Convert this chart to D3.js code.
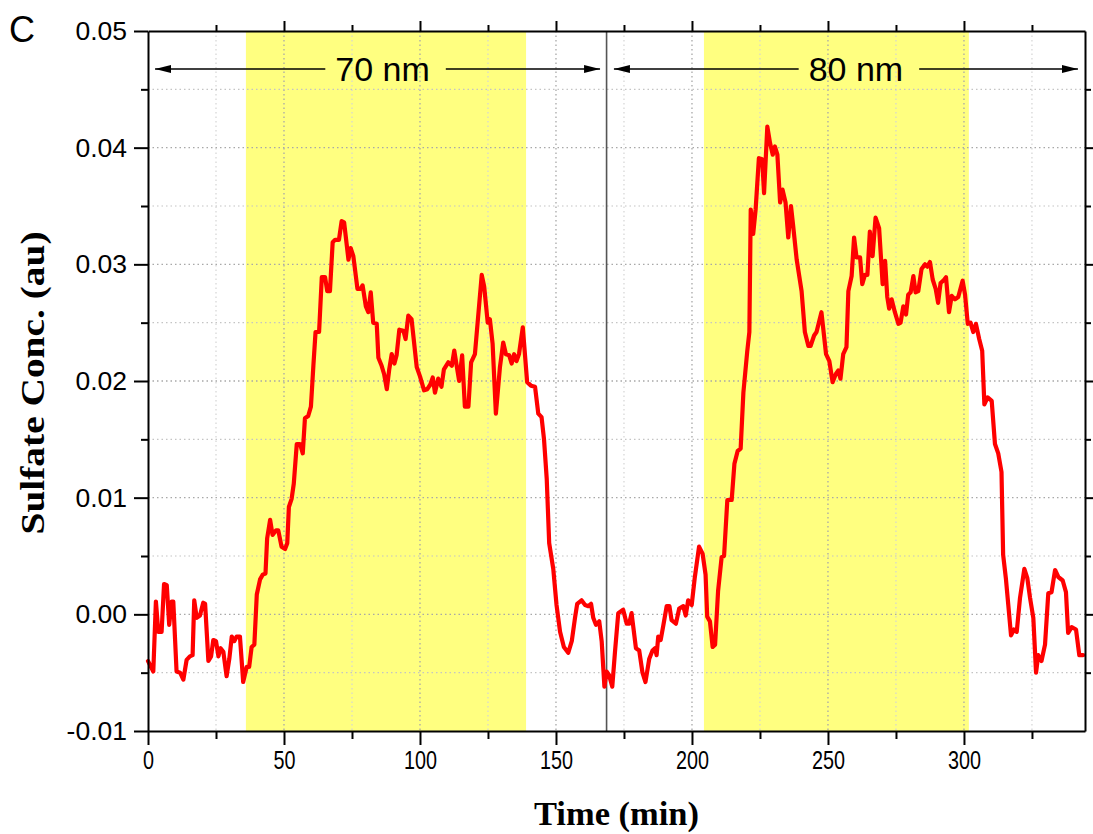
<!DOCTYPE html>
<html>
<head>
<meta charset="utf-8">
<script src="https://cdn.jsdelivr.net/npm/d3@7/dist/d3.min.js"></script>
<style>
  html, body { margin: 0; padding: 0; background: #fff; }
  svg { display: block; }
</style>
</head>
<body>
<svg id="chart" width="1093" height="834"></svg>
<script>
// ---------------- data ----------------
const timeMin = [
  0, 1.95, 2.9, 3.8, 5.0, 5.9, 6.9, 7.8, 8.7, 9.3, 10.5, 11.8, 13.0, 14.2, 15.4, 16.4, 17.0, 17.9, 19.1, 20.3,
  21.0, 22.2, 23.2, 24.0, 25.0, 25.9, 26.7, 27.7, 28.9, 29.9, 30.8, 31.7, 32.6, 33.8, 35.0, 36.3, 37.2, 38.1, 39.1, 40.0,
  41.2, 42.2, 43.2, 43.8, 44.9, 45.8, 47.1, 47.9, 49.1, 50.4, 51.2, 51.8, 52.8, 53.6, 54.7, 55.9, 56.9, 57.7, 58.9, 59.9,
  60.8, 61.6, 62.9, 63.9, 65.1, 65.9, 66.9, 67.9, 68.8, 70.2, 71.2, 72.1, 73.7, 74.5, 75.5, 77.0, 78.2, 78.9, 80.1, 81.0,
  81.9, 82.8, 84.1, 84.7, 85.9, 86.8, 87.8, 88.7, 89.6, 90.6, 91.4, 92.4, 93.9, 94.7, 95.7, 96.9, 98.8, 100.0, 101.5, 102.7,
  103.8, 104.7, 105.5, 106.7, 107.9, 108.8, 110.4, 111.7, 112.6, 113.5, 114.4, 115.5, 116.5, 117.8, 118.8, 120.2, 122.7, 123.6, 124.9, 125.7,
  126.7, 127.9, 129.4, 130.6, 131.6, 132.8, 133.7, 134.6, 135.5, 136.4, 137.8, 139.4, 140.8, 142.3, 143.5, 144.7, 145.6, 146.6, 147.5, 149.0,
  150.2, 151.5, 152.9, 154.5, 155.8, 157.0, 157.8, 159.4, 160.7, 161.9, 162.9, 163.7, 164.7, 165.9, 166.8, 167.8, 168.6, 169.5, 170.7, 171.7,
  172.9, 174.7, 176.0, 176.9, 177.8, 179.4, 180.6, 181.8, 182.9, 184.3, 185.5, 186.4, 187.0, 187.6, 188.5, 189.5, 190.7, 191.7, 192.5, 194.1,
  195.3, 196.8, 197.7, 198.6, 199.9, 201.0, 202.6, 203.9, 205.0, 205.6, 206.6, 207.6, 208.5, 209.6, 210.9, 211.8, 213.0, 214.6, 215.6, 216.8,
  217.9, 218.9, 220.3, 221.1, 221.6, 222.5, 223.4, 224.6, 225.8, 226.5, 227.7, 228.7, 229.7, 230.5, 231.4, 232.4, 233.3, 234.4, 235.4, 236.4,
  237.2, 238.5, 240.3, 241.5, 242.8, 243.6, 244.9, 245.8, 247.6, 249.3, 250.5, 251.7, 252.9, 253.8, 254.6, 255.6, 256.8, 257.5, 258.7, 259.6,
  260.5, 261.8, 262.6, 263.6, 264.5, 265.4, 266.4, 267.5, 268.8, 270.1, 271.0, 271.8, 272.5, 273.4, 274.6, 275.9, 276.7, 277.7, 278.7, 279.5,
  280.4, 281.4, 282.2, 283.2, 284.4, 285.7, 286.5, 287.5, 288.5, 289.6, 290.5, 291.4, 292.4, 293.4, 294.5, 295.5, 296.7, 297.9, 299.5, 300.4,
  301.4, 302.4, 303.4, 304.4, 305.6, 306.7, 307.5, 308.7, 310.2, 311.4, 312.6, 313.8, 314.4, 315.4, 316.3, 317.3, 318.4, 319.4, 320.6, 322.2,
  323.3, 324.3, 325.5, 326.5, 327.3, 328.5, 329.8, 331.0, 332.2, 333.5, 334.7, 336.3, 337.5, 338.3, 339.6, 341.2, 342.4, 343.8
];
const sulfate = [
  -0.0040, -0.0049, 0.0011, -0.0015, -0.0015, 0.0026, 0.0025, -0.0009, 0.0011, 0.0011, -0.0049, -0.0050, -0.0056, -0.0039, -0.0036, -0.0035, 0.0012, -0.0003, -0.0001, 0.0010,
  0.0009, -0.0040, -0.0036, -0.0022, -0.0023, -0.0036, -0.0029, -0.0032, -0.0053, -0.0038, -0.0019, -0.0023, -0.0019, -0.0019, -0.0058, -0.0045, -0.0045, -0.0028, -0.0026, 0.0017,
  0.0030, 0.0034, 0.0035, 0.0065, 0.0081, 0.0068, 0.0072, 0.0072, 0.0058, 0.0056, 0.0061, 0.0092, 0.0099, 0.0112, 0.0146, 0.0146, 0.0138, 0.0168, 0.0170, 0.0178,
  0.0213, 0.0242, 0.0242, 0.0289, 0.0289, 0.0277, 0.0277, 0.0319, 0.0321, 0.0321, 0.0337, 0.0336, 0.0304, 0.0314, 0.0307, 0.0279, 0.0279, 0.0282, 0.0264, 0.0259,
  0.0276, 0.0250, 0.0249, 0.0220, 0.0213, 0.0206, 0.0193, 0.0210, 0.0223, 0.0215, 0.0222, 0.0244, 0.0243, 0.0236, 0.0256, 0.0253, 0.0212, 0.0204, 0.0192, 0.0193,
  0.0197, 0.0203, 0.0190, 0.0202, 0.0195, 0.0210, 0.0216, 0.0213, 0.0226, 0.0213, 0.0200, 0.0222, 0.0178, 0.0178, 0.0216, 0.0223, 0.0291, 0.0281, 0.0250, 0.0253,
  0.0232, 0.0172, 0.0212, 0.0233, 0.0223, 0.0222, 0.0215, 0.0223, 0.0217, 0.0223, 0.0246, 0.0199, 0.0196, 0.0195, 0.0172, 0.0169, 0.0150, 0.0116, 0.0061, 0.0039,
  0.0008, -0.0015, -0.0028, -0.0033, -0.0023, -0.0003, 0.0009, 0.0012, 0.0008, 0.0007, 0.0009, -0.0003, -0.0009, -0.0006, -0.0023, -0.0062, -0.0049, -0.0052, -0.0062, -0.0032,
  0.0001, 0.0004, -0.0008, -0.0008, 0.0001, -0.0029, -0.0031, -0.0050, -0.0058, -0.0038, -0.0031, -0.0029, -0.0035, -0.0019, -0.0022, -0.0009, 0.0007, 0.0007, -0.0005, -0.0008,
  0.0005, 0.0007, -0.0001, 0.0012, 0.0008, 0.0031, 0.0058, 0.0052, 0.0034, -0.0002, -0.0006, -0.0028, -0.0026, 0.0020, 0.0049, 0.0050, 0.0098, 0.0098, 0.0129, 0.0140,
  0.0142, 0.0190, 0.0225, 0.0242, 0.0347, 0.0326, 0.0347, 0.0391, 0.0390, 0.0361, 0.0418, 0.0404, 0.0394, 0.0401, 0.0394, 0.0353, 0.0364, 0.0353, 0.0323, 0.0350,
  0.0333, 0.0304, 0.0277, 0.0242, 0.0230, 0.0230, 0.0239, 0.0242, 0.0259, 0.0223, 0.0217, 0.0199, 0.0206, 0.0209, 0.0202, 0.0223, 0.0229, 0.0277, 0.0290, 0.0323,
  0.0306, 0.0306, 0.0283, 0.0291, 0.0291, 0.0328, 0.0307, 0.0340, 0.0331, 0.0283, 0.0303, 0.0272, 0.0262, 0.0270, 0.0259, 0.0249, 0.0250, 0.0264, 0.0257, 0.0274,
  0.0276, 0.0290, 0.0276, 0.0277, 0.0296, 0.0300, 0.0298, 0.0302, 0.0287, 0.0279, 0.0267, 0.0284, 0.0286, 0.0289, 0.0259, 0.0273, 0.0270, 0.0272, 0.0286, 0.0274,
  0.0249, 0.0250, 0.0242, 0.0249, 0.0236, 0.0226, 0.0180, 0.0186, 0.0183, 0.0146, 0.0138, 0.0122, 0.0051, 0.0031, 0.0008, -0.0018, -0.0013, -0.0015, 0.0014, 0.0039,
  0.0031, 0.0014, -0.0003, -0.0050, -0.0035, -0.0040, -0.0026, 0.0018, 0.0019, 0.0038, 0.0032, 0.0029, 0.0019, -0.0016, -0.0011, -0.0013, -0.0035, -0.0035
];
// shaded exposure periods (min)
const bandStart = [36.0, 204.4];
const bandEnd = [139.0, 301.8];
const bandLabels = ["70 nm", "80 nm"];
// arrows spanning each experiment (min)
const arrowStart = [2.6, 171.3];
const arrowEnd = [166.2, 341.9];
const divider = 168.6;

const xMajorTicks = [0, 50, 100, 150, 200, 250, 300];
const xMinorTicks = [25, 75, 125, 175, 225, 275, 325];
const yMajorTicks = [-0.01, 0.00, 0.01, 0.02, 0.03, 0.04, 0.05];
const yMajorLabels = ["-0.01", "0.00", "0.01", "0.02", "0.03", "0.04", "0.05"];
const yMinorTicks = [-0.005, 0.005, 0.015, 0.025, 0.035, 0.045];

const xTitle = "Time (min)";
const yTitle = "Sulfate Conc. (au)";
const panelLabel = "C";

// ---------------- layout ----------------
const svg = d3.select("#chart");
const L = 148, R = 1085, T = 31, B = 731;
const x = d3.scaleLinear().domain([0, 344.5]).range([L, R]);
const y = d3.scaleLinear().domain([-0.01, 0.05]).range([B, T]);

// bands
svg.append("g").selectAll("rect").data(bandStart).join("rect")
  .attr("x", (d, i) => x(d)).attr("width", (d, i) => x(bandEnd[i]) - x(d))
  .attr("y", T).attr("height", B - T)
  .attr("fill", "#ffff80");

// grid
const grid = svg.append("g").attr("fill", "none");
grid.selectAll(".gxm").data(xMinorTicks.filter(d => x(d) < R - 2)).join("line")
  .attr("x1", d => x(d)).attr("x2", d => x(d)).attr("y1", T).attr("y2", B)
  .attr("stroke", "#d4d4d4").attr("stroke-width", 1.2).attr("stroke-dasharray", "1.5,3");
grid.selectAll(".gxM").data(xMajorTicks.slice(1)).join("line")
  .attr("x1", d => x(d)).attr("x2", d => x(d)).attr("y1", T).attr("y2", B)
  .attr("stroke", "#a8a8a8").attr("stroke-width", 1.3).attr("stroke-dasharray", "1.5,3");
grid.selectAll(".gym").data(yMinorTicks).join("line")
  .attr("x1", L).attr("x2", R).attr("y1", d => y(d)).attr("y2", d => y(d))
  .attr("stroke", "#c4c4c4").attr("stroke-width", 1.2).attr("stroke-dasharray", "1.5,3");
grid.selectAll(".gyM").data(yMajorTicks.slice(1, -1)).join("line")
  .attr("x1", L).attr("x2", R).attr("y1", d => y(d)).attr("y2", d => y(d))
  .attr("stroke", "#a8a8a8").attr("stroke-width", 1.3).attr("stroke-dasharray", "1.5,3");

// divider
svg.append("line")
  .attr("x1", x(divider)).attr("x2", x(divider)).attr("y1", T).attr("y2", B)
  .attr("stroke", "#555").attr("stroke-width", 1.6);

// curve
const pts = timeMin.map((t, i) => [t, sulfate[i]]);
svg.append("path").datum(pts)
  .attr("fill", "none").attr("stroke", "#ff0000").attr("stroke-width", 4.2)
  .attr("stroke-linejoin", "round").attr("stroke-linecap", "round")
  .attr("d", d3.line().x(d => x(d[0])).y(d => y(d[1])));

// axes
function styleAxis(g) {
  g.selectAll(".domain").attr("stroke", "#000").attr("stroke-width", 2);
  g.selectAll(".tick line").attr("stroke", "#000").attr("stroke-width", 2);
}
const fontSans = "'Liberation Sans', Arial, sans-serif";

// bottom
const gb = svg.append("g").attr("transform", `translate(0,${B})`)
  .call(d3.axisBottom(x).tickValues(xMajorTicks).tickSize(14).tickSizeOuter(0).tickPadding(6));
styleAxis(gb);
gb.selectAll("text").attr("font-family", fontSans).attr("font-size", 25).attr("fill", "#000")
  .attr("dy", "0.72em")
  .attr("textLength", d => String(d).length * 11).attr("lengthAdjust", "spacingAndGlyphs");
const gbm = svg.append("g").attr("transform", `translate(0,${B})`)
  .call(d3.axisBottom(x).tickValues(xMinorTicks).tickSize(8).tickSizeOuter(0).tickFormat(""));
styleAxis(gbm); gbm.select(".domain").remove();

// top
const gt = svg.append("g").attr("transform", `translate(0,${T})`)
  .call(d3.axisTop(x).tickValues(xMajorTicks.slice(1)).tickSize(10).tickSizeOuter(0).tickFormat(""));
styleAxis(gt);
const gtm = svg.append("g").attr("transform", `translate(0,${T})`)
  .call(d3.axisTop(x).tickValues(xMinorTicks).tickSize(6).tickSizeOuter(0).tickFormat(""));
styleAxis(gtm); gtm.select(".domain").remove();

// left
const gl = svg.append("g").attr("transform", `translate(${L},0)`)
  .call(d3.axisLeft(y).tickValues(yMajorTicks).tickSize(14).tickSizeOuter(0).tickPadding(7)
    .tickFormat((d, i) => yMajorLabels[i]));
styleAxis(gl);
gl.selectAll("text").attr("font-family", fontSans).attr("font-size", 26.5).attr("fill", "#000");
const glm = svg.append("g").attr("transform", `translate(${L},0)`)
  .call(d3.axisLeft(y).tickValues(yMinorTicks).tickSize(7).tickSizeOuter(0).tickFormat(""));
styleAxis(glm); glm.select(".domain").remove();

// right
const gr = svg.append("g").attr("transform", `translate(${R},0)`)
  .call(d3.axisRight(y).tickValues(yMajorTicks.slice(1, -1)).tickSize(10).tickSizeOuter(0).tickFormat(""));
styleAxis(gr);
const grm = svg.append("g").attr("transform", `translate(${R},0)`)
  .call(d3.axisRight(y).tickValues(yMinorTicks).tickSize(6).tickSizeOuter(0).tickFormat(""));
styleAxis(grm); grm.select(".domain").remove();

// arrows with labels
const defs = svg.append("defs");
defs.append("marker").attr("id", "ah").attr("viewBox", "0 0 16 10")
  .attr("refX", 16).attr("refY", 5).attr("markerWidth", 16).attr("markerHeight", 10)
  .attr("markerUnits", "userSpaceOnUse").attr("orient", "auto-start-reverse")
  .append("path").attr("d", "M0,1 L16,5 L0,9 Z").attr("fill", "#000");

const arrowY = 69;
bandLabels.forEach((lab, i) => {
  const x0 = x(arrowStart[i]), x1 = x(arrowEnd[i]);
  const cx = (x0 + x1) / 2 + (i === 0 ? 5 : 10);
  const txt = svg.append("text").attr("x", cx).attr("y", 81)
    .attr("text-anchor", "middle").attr("font-family", fontSans).attr("font-size", 34)
    .attr("fill", "#000").text(lab);
  const w = txt.node().getComputedTextLength();
  const gap = 10;
  svg.append("line").attr("x1", x0).attr("x2", cx - w / 2 - gap).attr("y1", arrowY).attr("y2", arrowY)
    .attr("stroke", "#000").attr("stroke-width", 1.3).attr("marker-start", "url(#ah)");
  svg.append("line").attr("x1", cx + w / 2 + gap + 6).attr("x2", x1).attr("y1", arrowY).attr("y2", arrowY)
    .attr("stroke", "#000").attr("stroke-width", 1.3).attr("marker-end", "url(#ah)");
});

// titles
svg.append("text").attr("x", (L + R) / 2 - 0).attr("y", 825)
  .attr("text-anchor", "middle").attr("font-family", "'Liberation Serif', 'Times New Roman', serif")
  .attr("font-weight", "bold").attr("font-size", 33).attr("fill", "#000")
  .attr("textLength", 165).attr("lengthAdjust", "spacingAndGlyphs")
  .text(xTitle);
svg.append("text").attr("transform", "translate(44,383) rotate(-90)")
  .attr("text-anchor", "middle").attr("font-family", "'Liberation Serif', 'Times New Roman', serif")
  .attr("font-weight", "bold").attr("font-size", 33).attr("fill", "#000")
  .attr("textLength", 303).attr("lengthAdjust", "spacingAndGlyphs")
  .text(yTitle);
svg.append("text").attr("x", 9).attr("y", 41.5)
  .attr("font-family", fontSans).attr("font-size", 36).attr("fill", "#000")
  .text(panelLabel);
</script>
</body>
</html>
